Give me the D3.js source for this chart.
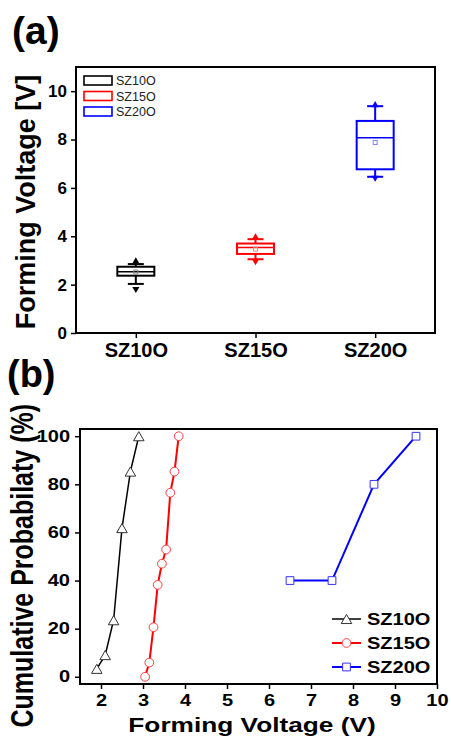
<!DOCTYPE html>
<html>
<head>
<meta charset="utf-8">
<script src="https://cdn.jsdelivr.net/npm/d3@7"></script>
<style>
body{margin:0;background:#fff;}
text{font-family:Arial,'Liberation Sans',sans-serif;}
</style>
</head>
<body>
<div id="plot"></div>
<script>
// panel (a): box plot of forming voltage
var categories = ['SZ10O','SZ15O','SZ20O'];
var colors = ['#000000','#ff0000','#0000ff'];
var meanColors = ['#888888','#ff8080','#8080ff'];
var q1 = [2.37, 3.27, 6.77];
var q3 = [2.74, 3.70, 8.77];
var median = [2.53, 3.54, 8.07];
var mean = [2.52, 3.47, 7.88];
var whiskLo = [2.03, 3.05, 6.46];
var whiskHi = [2.85, 3.88, 9.38];
var minVal = [1.82, 2.97, 6.42];
var maxVal = [2.96, 3.96, 9.42];
var yTicksA = [0,2,4,6,8,10];

// panel (b): cumulative probability
var sz10V = [1.9, 2.1, 2.3, 2.5, 2.7, 2.9];
var sz10P = [3.3, 9.0, 23.5, 61.8, 85.3, 100];
var sz15V = [3.05, 3.15, 3.25, 3.35, 3.45, 3.55, 3.65, 3.75, 3.85];
var sz15P = [0, 5.9, 20.6, 38.2, 47.0, 52.9, 76.5, 85.3, 100];
var sz20V = [6.5, 7.5, 8.5, 9.5];
var sz20P = [40, 40, 80, 100];
var xTicksB = [2,3,4,5,6,7,8,9,10];
var yTicksB = [0,20,40,60,80,100];

var W = 451, H = 740;
var svg = d3.select('#plot').append('svg')
	.attr('width',W).attr('height',H)
	.style('background','#fff');

// ---------- (a) ----------
var a = {l:76, r:435, t:67, b:333};
var xa = d3.scalePoint().domain(categories).range([a.l,a.r]).padding(0.5);
var ya = d3.scaleLinear().domain([0,11]).range([a.b,a.t]);

svg.append('text').attr('x',12).attr('y',44)
	.style('font-size','39px').style('font-weight','bold').text('(a)');

svg.append('g').attr('transform','translate(0,'+a.b+')')
	.call(d3.axisBottom(xa).tickSize(5).tickPadding(5).tickSizeOuter(0))
	.call(function(g){
		g.select('.domain').remove();
		g.selectAll('line').attr('stroke-width',1.5);
		g.selectAll('text').style('font-size','20px').style('font-weight','bold').attr('fill','#000');
	});
svg.append('g').attr('transform','translate('+a.l+',0)')
	.call(d3.axisLeft(ya).tickValues(yTicksA).tickSize(5).tickPadding(4).tickSizeOuter(0))
	.call(function(g){
		g.select('.domain').remove();
		g.selectAll('line').attr('stroke-width',1.5);
		g.selectAll('text').style('font-size','17px').style('font-weight','bold').attr('fill','#000');
	});
svg.append('rect').attr('x',a.l).attr('y',a.t).attr('width',a.r-a.l).attr('height',a.b-a.t)
	.attr('fill','none').attr('stroke','#000').attr('stroke-width',2);

svg.append('text')
	.attr('transform','translate(35,'+((a.t+a.b)/2+2)+') rotate(-90)')
	.attr('text-anchor','middle')
	.style('font-size','27px').style('font-weight','bold').text('Forming Voltage [V]');

var bw = 37, cw = 8;
var boxes = svg.append('g').selectAll('g').data(categories).enter().append('g');
boxes.each(function(c,i){
	var g = d3.select(this), cx = xa(c), col = colors[i];
	g.append('line').attr('x1',cx).attr('x2',cx).attr('y1',ya(whiskHi[i])).attr('y2',ya(q3[i]))
		.attr('stroke',col).attr('stroke-width',2);
	g.append('line').attr('x1',cx).attr('x2',cx).attr('y1',ya(q1[i])).attr('y2',ya(whiskLo[i]))
		.attr('stroke',col).attr('stroke-width',2);
	[whiskHi[i],whiskLo[i]].forEach(function(v){
		g.append('line').attr('x1',cx-cw).attr('x2',cx+cw).attr('y1',ya(v)).attr('y2',ya(v))
			.attr('stroke',col).attr('stroke-width',2);
	});
	g.append('rect').attr('x',cx-bw/2).attr('y',ya(q3[i])).attr('width',bw).attr('height',ya(q1[i])-ya(q3[i]))
		.attr('fill','none').attr('stroke',col).attr('stroke-width',2);
	g.append('line').attr('x1',cx-bw/2).attr('x2',cx+bw/2).attr('y1',ya(median[i])).attr('y2',ya(median[i]))
		.attr('stroke',col).attr('stroke-width',1.5);
	g.append('rect').attr('x',cx-2).attr('y',ya(mean[i])-2).attr('width',4).attr('height',4)
		.attr('fill','none').attr('stroke',meanColors[i]).attr('stroke-width',1);
	g.append('path').attr('d',d3.symbol().type(d3.symbolTriangle).size(22)())
		.attr('transform','translate('+cx+','+ya(maxVal[i])+')').attr('fill',col);
	g.append('path').attr('d',d3.symbol().type(d3.symbolTriangle).size(22)())
		.attr('transform','translate('+cx+','+ya(minVal[i])+') rotate(180)').attr('fill',col);
});

var legA = svg.append('g').selectAll('g').data(categories).enter().append('g')
	.attr('transform',function(d,i){return 'translate(84,'+(80.5+i*15.5)+')';});
legA.append('rect').attr('x',0).attr('y',-4.5).attr('width',28).attr('height',9)
	.attr('fill','none').attr('stroke',function(d,i){return colors[i];}).attr('stroke-width',1.6);
legA.append('text').attr('x',32).attr('y',4.5).style('font-size','12.5px').attr('fill','#222')
	.text(function(d){return d;});

// ---------- (b) ----------
var b = {l:80, r:437, t:429, b:684};
var xb = d3.scaleLinear().domain([1.5,10]).range([b.l,b.r]);
var yb = d3.scaleLinear().domain([-3,103]).range([b.b,b.t]);
var sx = 'scale(1.25,1)';

svg.append('text').attr('x',7).attr('y',387)
	.style('font-size','38px').style('font-weight','bold').text('(b)');

svg.append('g').attr('transform','translate(0,'+b.b+')')
	.call(d3.axisBottom(xb).tickValues(xTicksB).tickSize(5).tickPadding(6).tickSizeOuter(0))
	.call(function(g){
		g.select('.domain').remove();
		g.selectAll('line').attr('stroke-width',1.5);
		g.selectAll('text').style('font-size','16px').style('font-weight','bold').attr('fill','#000')
			.attr('transform',sx);
	});
svg.append('g').attr('transform','translate('+b.l+',0)')
	.call(d3.axisLeft(yb).tickValues(yTicksB).tickSize(5).tickPadding(3).tickSizeOuter(0))
	.call(function(g){
		g.select('.domain').remove();
		g.selectAll('line').attr('stroke-width',1.5);
		g.selectAll('text').style('font-size','16px').style('font-weight','bold').attr('fill','#000')
			.attr('transform',sx);
	});
svg.append('rect').attr('x',b.l).attr('y',b.t).attr('width',b.r-b.l).attr('height',b.b-b.t)
	.attr('fill','none').attr('stroke','#000').attr('stroke-width',2);

svg.append('text')
	.attr('transform','translate(252,732) '+sx)
	.attr('text-anchor','middle')
	.style('font-size','21px').style('font-weight','bold').text('Forming Voltage (V)');
svg.append('text')
	.attr('transform','translate(33,404) scale(1.25,1) rotate(-90)')
	.attr('text-anchor','end')
	.style('font-size','25px').style('font-weight','bold').text('Cumulative Probabilaty (%)');

var series = [
	{name:'SZ10O', v:sz10V, p:sz10P, line:'#000000', mk:'#333333', lw:1.5, sym:d3.symbolTriangle, size:48, dy:1.5},
	{name:'SZ15O', v:sz15V, p:sz15P, line:'#ff0000', mk:'#ff4040', lw:2, sym:d3.symbolCircle, size:60, dy:0},
	{name:'SZ20O', v:sz20V, p:sz20P, line:'#0000ff', mk:'#3333ff', lw:2, sym:d3.symbolSquare, size:60, dy:0}
];
var line = d3.line();
series.forEach(function(s){
	var pts = s.v.map(function(v,i){return [xb(v), yb(s.p[i])];});
	svg.append('path').attr('d',line(pts)).attr('fill','none')
		.attr('stroke',s.line).attr('stroke-width',s.lw);
	svg.append('g').selectAll('path').data(pts).enter().append('path')
		.attr('d',d3.symbol().type(s.sym).size(s.size)())
		.attr('transform',function(d){return 'translate('+d[0]+','+(d[1]+s.dy)+')';})
		.attr('fill','#fff').attr('stroke',s.mk).attr('stroke-width',1);
});

var legB = svg.append('g').selectAll('g').data(series).enter().append('g')
	.attr('transform',function(d,i){return 'translate(332,'+(619+i*24)+')';});
legB.append('line').attr('x1',0).attr('x2',29).attr('y1',0).attr('y2',0)
	.attr('stroke',function(d){return d.line;}).attr('stroke-width',function(d){return d.lw;});
legB.append('path').attr('d',function(d){return d3.symbol().type(d.sym).size(d.size)();})
	.attr('transform',function(d){return 'translate(14.5,'+d.dy+')';})
	.attr('fill','#fff').attr('stroke',function(d){return d.mk;}).attr('stroke-width',1);
legB.append('text').attr('transform','translate(35,6) '+sx)
	.style('font-size','16px').style('font-weight','bold').attr('fill','#000')
	.text(function(d){return d.name;});
</script>
</body>
</html>
